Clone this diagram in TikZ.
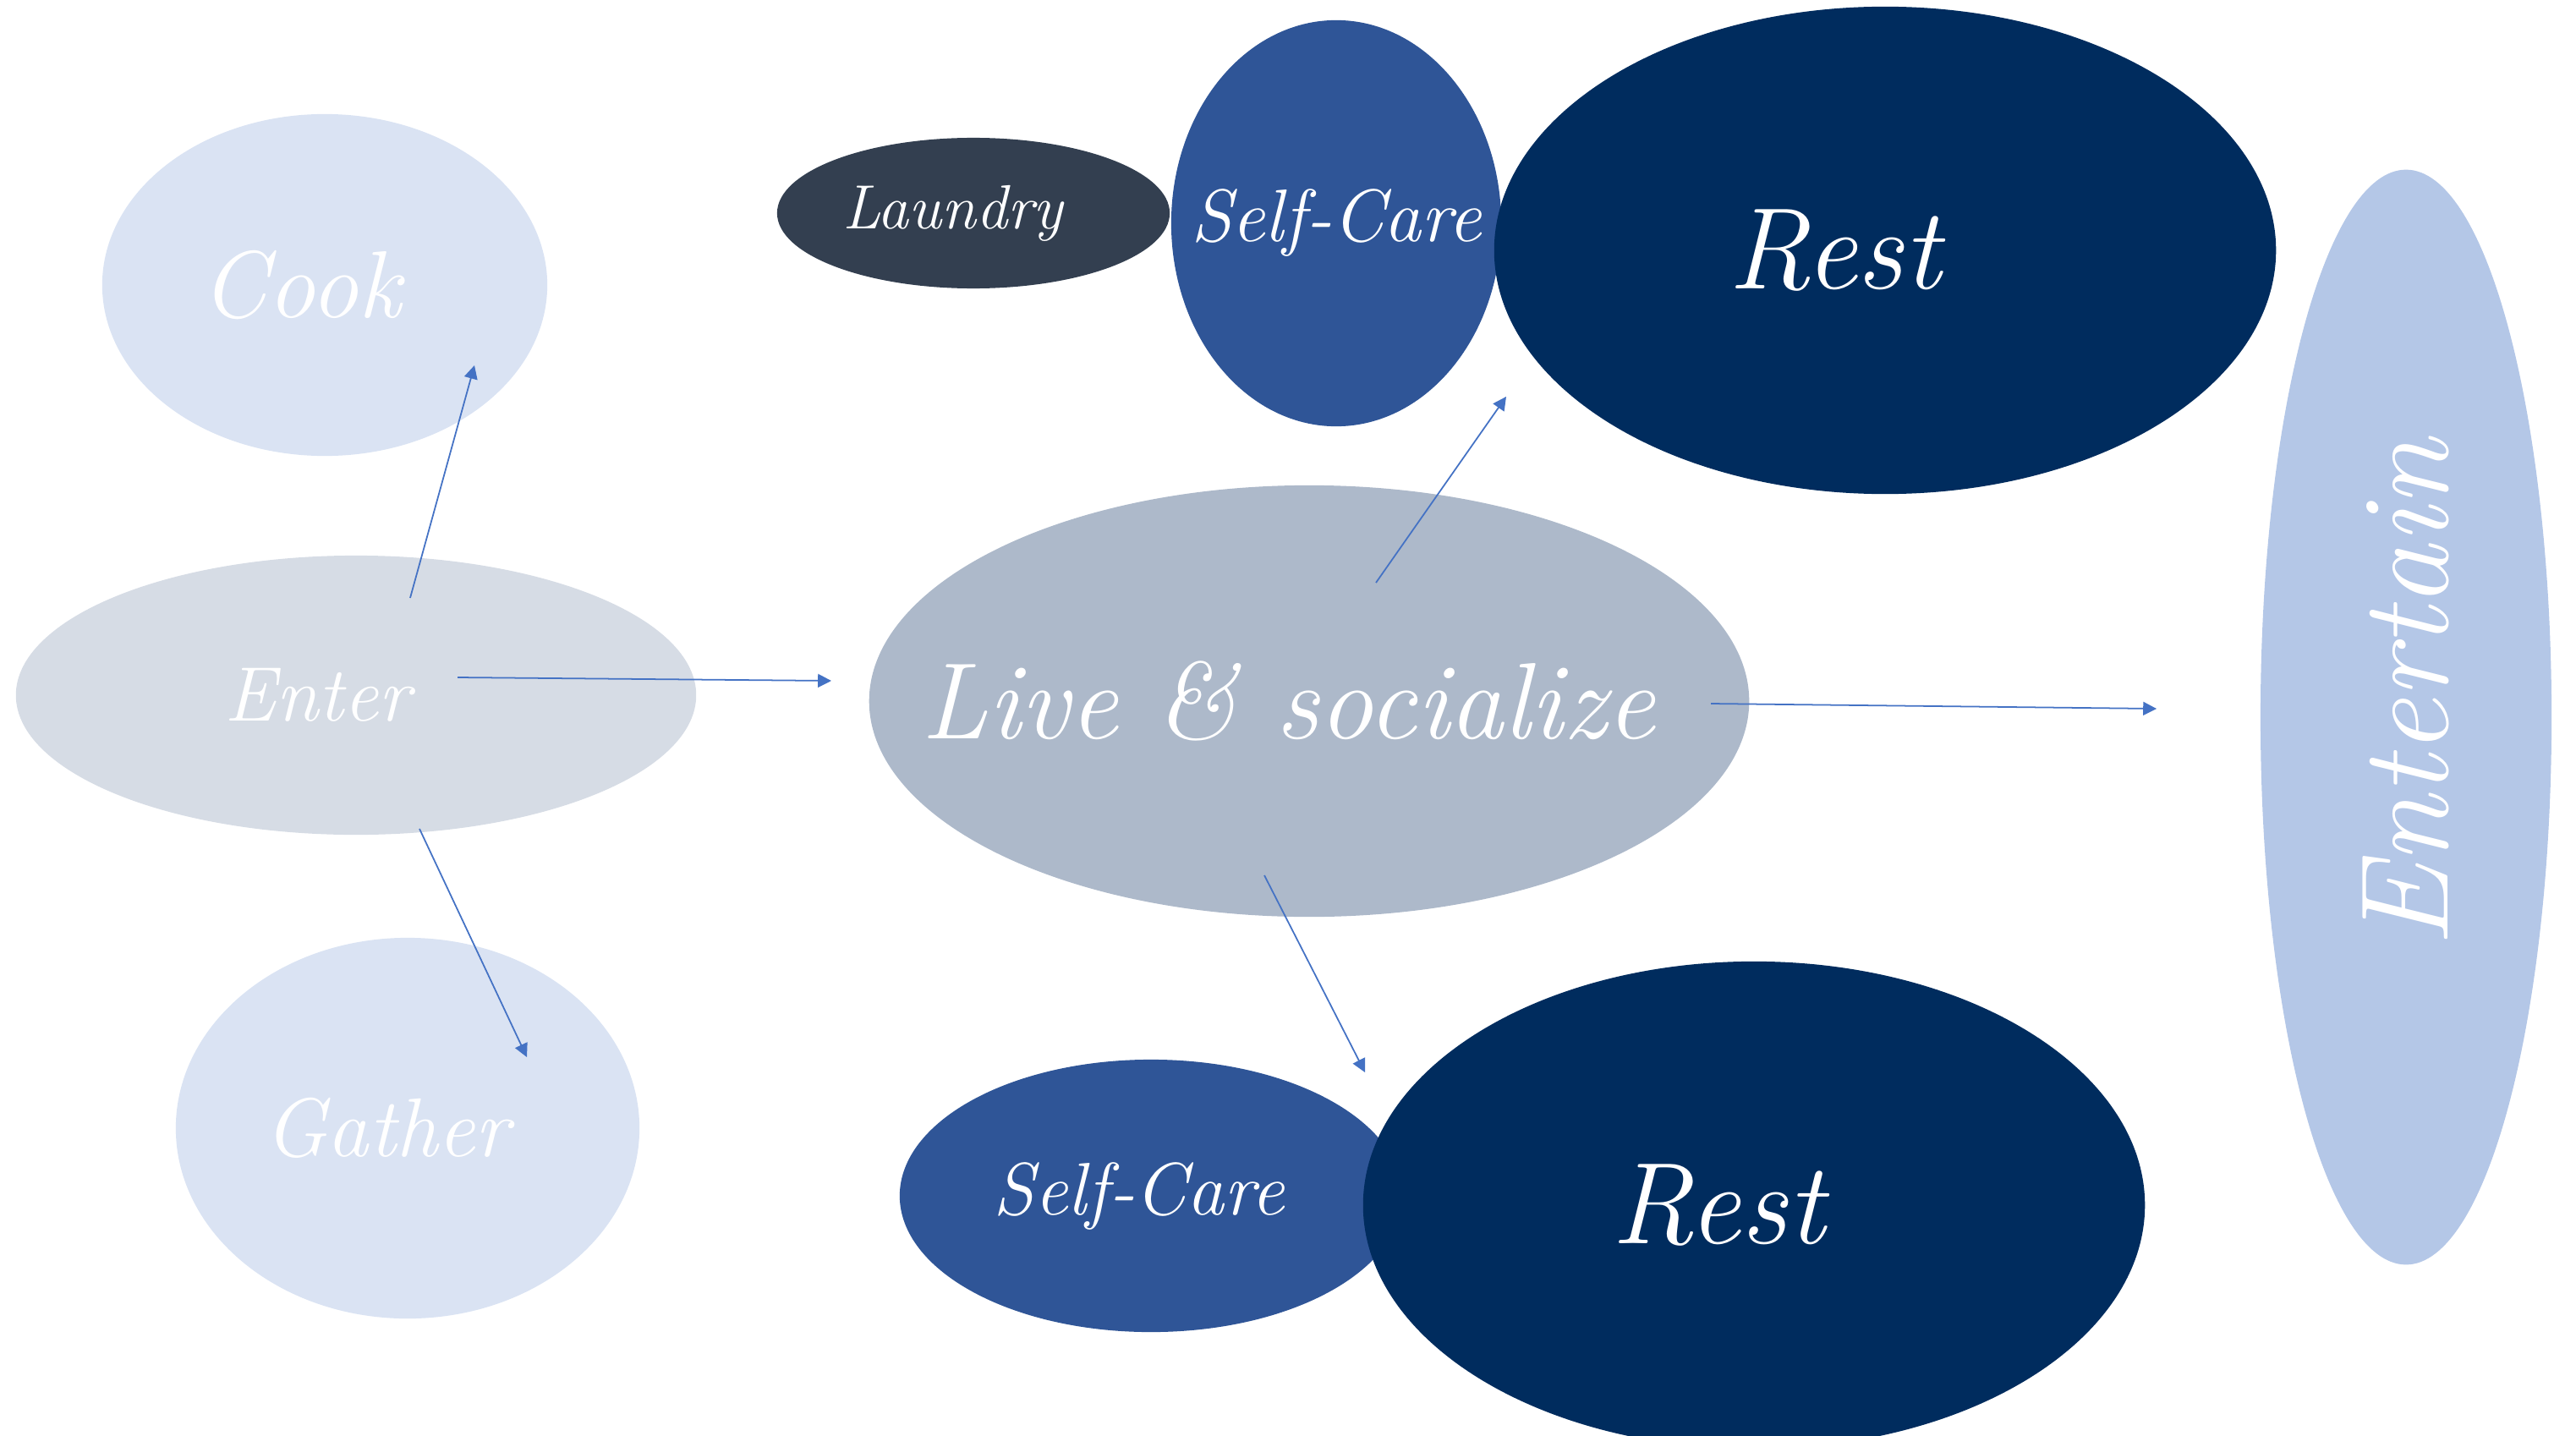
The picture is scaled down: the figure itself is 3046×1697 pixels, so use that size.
\documentclass[tikz,border=0pt]{standalone}
\usetikzlibrary{shapes.geometric,arrows.meta}

\definecolor{paleblue}{HTML}{DAE3F3}
\definecolor{palegrey}{HTML}{D6DCE5}
\definecolor{slate}{HTML}{333F50}
\definecolor{midblue}{HTML}{2F5597}
\definecolor{navy}{HTML}{002C5E}
\definecolor{greyblue}{HTML}{ADB9CA}
\definecolor{skyblue}{HTML}{B4C7E7}
\definecolor{arrowblue}{HTML}{4472C4}

\newcommand{\hand}[1]{\fontsize{#1}{#1}\selectfont\itshape}
% text of no width, moved left by the optional amount
\newcommand{\nowidth}[2][0pt]{\makebox[0pt]{\hspace{-#1}#2\hspace{#1}}}

\tikzset{
  blob/.style={ellipse, inner sep=0pt, text=white, font=\hand{28pt}},
  link/.style={-{Triangle[length=4.5pt,width=4.5pt]}, draw=arrowblue, line width=0.5pt},
}

\begin{document}
\begin{tikzpicture}[x=0.01cm, y=-0.01cm]
      \useasboundingbox (0,0) rectangle (3046,1697);
      \node[blob, fill=paleblue, minimum width=5.26cm, minimum height=4.04cm, font=\hand{32pt}] (cook) at (384,337) {\nowidth[8pt]{Cook}};
      \node[blob, fill=palegrey, minimum width=8.04cm, minimum height=3.30cm, font=\hand{26pt}] (enter) at (421,822) {\nowidth[13pt]{Enter}};
      \node[blob, fill=paleblue, minimum width=5.48cm, minimum height=4.50cm, font=\hand{28pt}] (gather) at (482,1334) {\nowidth[7pt]{Gather}};
      \node[blob, fill=slate, minimum width=4.64cm, minimum height=1.78cm, font=\hand{21pt}] (laundry) at (1151,252) {\nowidth[7pt]{Laundry}};
      \node[blob, fill=midblue, minimum width=3.90cm, minimum height=4.80cm, font=\hand{25pt}] (selftop) at (1580,264) {\nowidth{Self-Care}};
      \node[blob, fill=navy, minimum width=9.24cm, minimum height=5.76cm, font=\hand{39pt}] (resttop) at (2229,296) {\nowidth[17pt]{Rest}};
      \node[blob, fill=greyblue, minimum width=10.40cm, minimum height=5.10cm, font=\hand{36.5pt}] (live) at (1548,829) {\nowidth[7pt]{Live \& socialize}};
      \node[blob, fill=skyblue, minimum width=12.94cm, minimum height=3.44cm, rotate=90, font=\hand{42pt}] (entertain) at (2845,848) {\nowidth[-8pt]{Entertain}};
      \node[blob, fill=midblue, minimum width=5.94cm, minimum height=3.22cm, font=\hand{25pt}] (selfbot) at (1361,1414) {\nowidth[4pt]{Self-Care}};
      \node[blob, fill=navy, minimum width=9.24cm, minimum height=5.76cm, font=\hand{39pt}] (restbot) at (2074,1425) {\nowidth[12pt]{Rest}};
      % free ends of the arrows
      \coordinate (e1) at (485,707);   \coordinate (c1) at (561,432);
      \coordinate (e2) at (541,801);   \coordinate (l2) at (983,805);
      \coordinate (e3) at (496,980);   \coordinate (g3) at (623,1250);
      \coordinate (l4) at (1627,689);  \coordinate (s4) at (1781,469);
      \coordinate (l5) at (2023,832);  \coordinate (t5) at (2550,838);
      \coordinate (l6) at (1495,1035); \coordinate (s6) at (1614,1268);
      \begin{scope}[link]
        \draw (e1) to (c1);
        \draw (e2) to (l2);
        \draw (e3) to (g3);
        \draw (l4) to (s4);
        \draw (l5) to (t5);
        \draw (l6) to (s6);
      \end{scope}
    \end{tikzpicture}
\end{document}
